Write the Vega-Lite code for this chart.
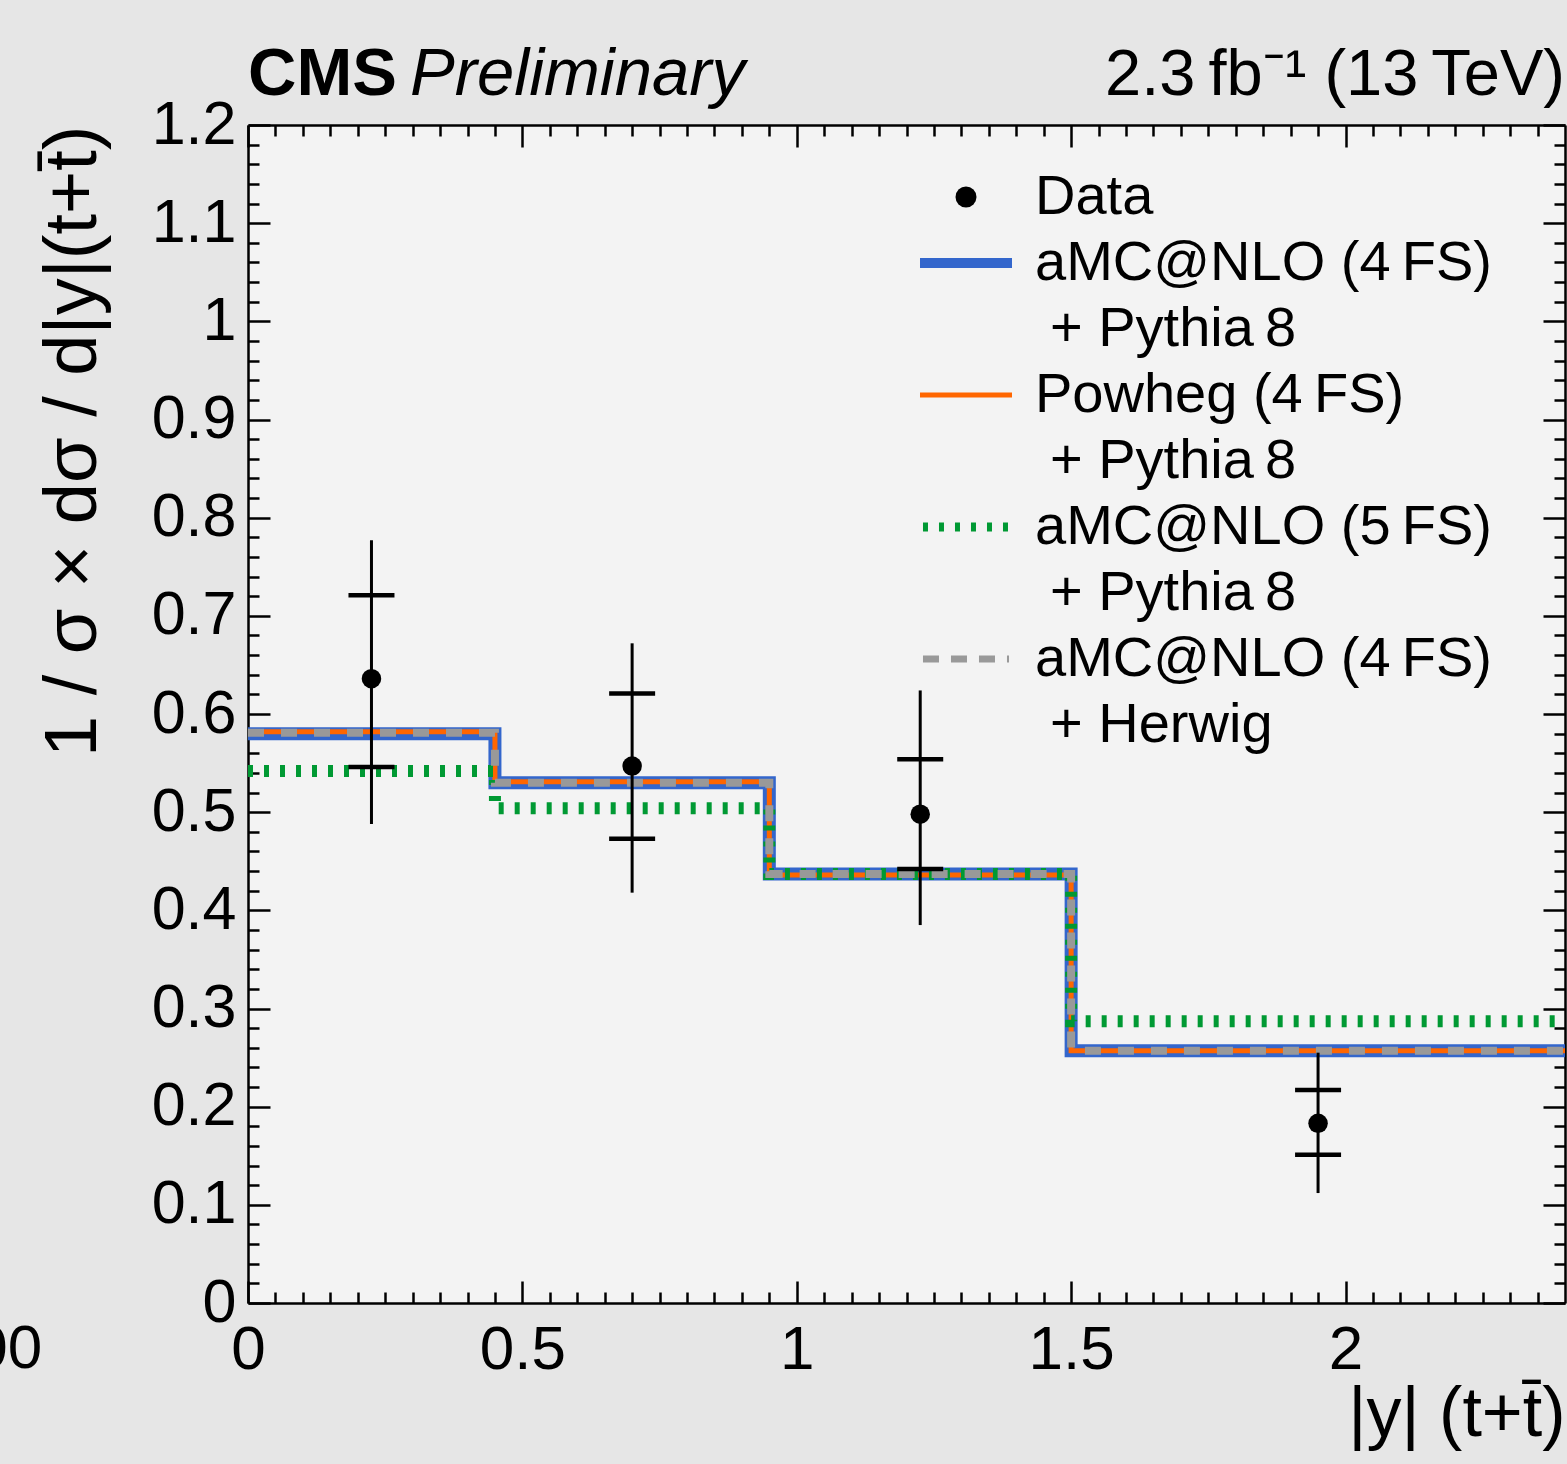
{
  "$schema": "https://vega.github.io/schema/vega-lite/v6.json",
  "width": 1317,
  "height": 1178,
  "autosize": "none",
  "padding": {"left": 248, "top": 125, "right": 2, "bottom": 161},
  "background": "#e6e6e6",
  "config": {
    "font": "Liberation Sans",
    "view": {"stroke": null, "fill": "#f3f3f3"},
    "axis": {"grid": false, "labelFlush": false, "labelOverlap": false, "zindex": 1, "tickColor": "black", "domainColor": "black", "labelColor": "black", "titleColor": "black", "labelFont": "Liberation Sans", "titleFont": "Liberation Sans", "titleFontWeight": "normal"}
  },
  "datasets": {
    "curves": [
      {"model": "amc4", "x": 0, "y": 0.58},
      {"model": "amc4", "x": 0.45, "y": 0.53},
      {"model": "amc4", "x": 0.95, "y": 0.437},
      {"model": "amc4", "x": 1.5, "y": 0.257},
      {"model": "amc4", "x": 2.4, "y": 0.257},
      {"model": "powheg", "x": 0, "y": 0.582},
      {"model": "powheg", "x": 0.45, "y": 0.531},
      {"model": "powheg", "x": 0.95, "y": 0.436},
      {"model": "powheg", "x": 1.5, "y": 0.257},
      {"model": "powheg", "x": 2.4, "y": 0.257},
      {"model": "amc5", "x": 0, "y": 0.542},
      {"model": "amc5", "x": 0.45, "y": 0.504},
      {"model": "amc5", "x": 0.95, "y": 0.437},
      {"model": "amc5", "x": 1.5, "y": 0.287},
      {"model": "amc5", "x": 2.4, "y": 0.287},
      {"model": "herwig", "x": 0, "y": 0.581},
      {"model": "herwig", "x": 0.45, "y": 0.53},
      {"model": "herwig", "x": 0.95, "y": 0.437},
      {"model": "herwig", "x": 1.5, "y": 0.257},
      {"model": "herwig", "x": 2.4, "y": 0.257}
    ],
    "points": [
      {"x": 0.225, "y": 0.636, "statLo": 0.546, "statHi": 0.721, "totLo": 0.488, "totHi": 0.777},
      {"x": 0.7, "y": 0.547, "statLo": 0.473, "statHi": 0.621, "totLo": 0.418, "totHi": 0.672},
      {"x": 1.225, "y": 0.498, "statLo": 0.442, "statHi": 0.554, "totLo": 0.385, "totHi": 0.624},
      {"x": 1.95, "y": 0.183, "statLo": 0.151, "statHi": 0.217, "totLo": 0.112, "totHi": 0.255}
    ]
  },
  "resolve": {"axis": {"x": "independent", "y": "independent"}},
  "layer": [
    {
      "data": {"name": "curves"},
      "transform": [{"filter": "datum.model === 'amc4'"}],
      "mark": {"type": "line", "interpolate": "step-after", "strokeWidth": 13},
      "encoding": {
        "x": {"field": "x", "type": "quantitative", "scale": {"domain": [0, 2.4], "nice": false, "zero": false},
          "axis": {"orient": "bottom", "values": [0, 0.5, 1, 1.5, 2], "format": "~g", "ticks": false, "domain": true, "domainWidth": 2.5, "labelFontSize": 62, "labelPadding": 16, "title": "|y| (t+t\u0304)", "titleFontSize": 70, "titleAnchor": "end", "titlePadding": 0}},
        "y": {"field": "y", "type": "quantitative", "scale": {"domain": [0, 1.2], "nice": false, "zero": false},
          "axis": {"orient": "left", "values": [0, 0.1, 0.2, 0.3, 0.4, 0.5, 0.6, 0.7, 0.8, 0.9, 1, 1.1, 1.2], "format": "~g", "ticks": false, "domain": true, "domainWidth": 2.5, "labelFontSize": 61, "labelPadding": 12, "title": "1 / σ × dσ / d|y|(t+t\u0304)", "titleFontSize": 74, "titleAnchor": "end", "titlePadding": 40}},
        "color": {"field": "model", "type": "nominal",
          "scale": {"domain": ["Data", "amc4", "amc4_p", "powheg", "powheg_p", "amc5", "amc5_p", "herwig", "herwig_p"],
                    "range": ["black", "#3366cc", "#3366cc", "#ff6600", "#ff6600", "#009933", "#009933", "#999999", "#999999"]},
          "legend": {
            "orient": "none", "legendX": 672, "legendY": 39, "title": null, "padding": 0,
            "symbolType": "stroke", "symbolSize": 8464, "symbolStrokeWidth": 10, "symbolOffset": 0,
            "labelFont": "Liberation Sans", "labelFontSize": 56, "labelColor": "black", "labelOffset": 23, "labelLimit": 0,
            "clipHeight": 66, "rowPadding": 0,
            "labelExpr": "datum.value === 'Data' ? 'Data' : (datum.value === 'amc4' || datum.value === 'herwig') ? 'aMC@NLO (4\u2009FS)' : datum.value === 'amc5' ? 'aMC@NLO (5\u2009FS)' : datum.value === 'powheg' ? 'Powheg (4\u2009FS)' : datum.value === 'herwig_p' ? '+ Herwig' : '+ Pythia\u20098'",
            "encode": {
              "symbols": {"update": {
                "x": {"signal": "datum.value === 'Data' ? 46 : 46"},
                "shape": {"signal": "datum.value === 'Data' ? 'circle' : 'stroke'"},
                "size": {"signal": "datum.value === 'Data' ? 440 : datum.value === 'amc4' || datum.value === 'powheg' ? 8464 : 7400"},
                "fill": {"signal": "datum.value === 'Data' ? 'black' : 'transparent'"},
                "strokeWidth": {"signal": "datum.value === 'Data' ? 0 : datum.value === 'amc4' ? 10 : datum.value === 'powheg' ? 5 : datum.value === 'amc5' ? 9 : 7"},
                "strokeDash": {"signal": "datum.value === 'amc5' ? [5, 11] : datum.value === 'herwig' ? [16, 12] : [1, 0]"},
                "opacity": {"signal": "indexof(['amc4_p', 'powheg_p', 'amc5_p', 'herwig_p'], datum.value) >= 0 ? 0 : 1"}
              }},
              "labels": {"update": {
                "x": {"signal": "indexof(['amc4_p', 'powheg_p', 'amc5_p', 'herwig_p'], datum.value) >= 0 ? 130 : 115"}
              }}
            }
          }}
      }
    },
    {
      "data": {"name": "curves"},
      "transform": [{"filter": "datum.model === 'powheg'"}],
      "mark": {"type": "line", "interpolate": "step-after", "strokeWidth": 5, "color": "#ff6600"},
      "encoding": {
        "x": {"field": "x", "type": "quantitative", "scale": {"domain": [0, 2.4], "nice": false, "zero": false},
          "axis": {"orient": "bottom", "values": [0, 0.5, 1, 1.5, 2], "labels": false, "domain": false, "ticks": true, "tickSize": -22, "tickWidth": 2.5, "title": null}},
        "y": {"field": "y", "type": "quantitative", "scale": {"domain": [0, 1.2], "nice": false, "zero": false},
          "axis": {"orient": "left", "values": [0, 0.1, 0.2, 0.3, 0.4, 0.5, 0.6, 0.7, 0.8, 0.9, 1, 1.1, 1.2], "labels": false, "domain": false, "ticks": true, "tickSize": -22, "tickWidth": 2.5, "title": null}}
      }
    },
    {
      "data": {"name": "curves"},
      "transform": [{"filter": "datum.model === 'amc5'"}],
      "mark": {"type": "line", "interpolate": "step-after", "strokeWidth": 12, "strokeDash": [5, 11], "color": "#009933"},
      "encoding": {
        "x": {"field": "x", "type": "quantitative", "scale": {"domain": [0, 2.4], "nice": false, "zero": false},
          "axis": {"orient": "bottom", "values": [0.05, 0.1, 0.15, 0.2, 0.25, 0.3, 0.35, 0.4, 0.45, 0.55, 0.6, 0.65, 0.7, 0.75, 0.8, 0.85, 0.9, 0.95, 1.05, 1.1, 1.15, 1.2, 1.25, 1.3, 1.35, 1.4, 1.45, 1.55, 1.6, 1.65, 1.7, 1.75, 1.8, 1.85, 1.9, 1.95, 2.05, 2.1, 2.15, 2.2, 2.25, 2.3, 2.35], "labels": false, "domain": false, "ticks": true, "tickSize": -11, "tickWidth": 2.5, "title": null}},
        "y": {"field": "y", "type": "quantitative", "scale": {"domain": [0, 1.2], "nice": false, "zero": false},
          "axis": {"orient": "left", "values": [0.02, 0.04, 0.06, 0.08, 0.12, 0.14, 0.16, 0.18, 0.22, 0.24, 0.26, 0.28, 0.32, 0.34, 0.36, 0.38, 0.42, 0.44, 0.46, 0.48, 0.52, 0.54, 0.56, 0.58, 0.62, 0.64, 0.66, 0.68, 0.72, 0.74, 0.76, 0.78, 0.82, 0.84, 0.86, 0.88, 0.92, 0.94, 0.96, 0.98, 1.02, 1.04, 1.06, 1.08, 1.12, 1.14, 1.16, 1.18], "labels": false, "domain": false, "ticks": true, "tickSize": -11, "tickWidth": 2.5, "title": null}}
      }
    },
    {
      "data": {"name": "curves"},
      "transform": [{"filter": "datum.model === 'herwig'"}],
      "mark": {"type": "line", "interpolate": "step-after", "strokeWidth": 8, "strokeDash": [16, 17], "color": "#999999"},
      "encoding": {
        "x": {"field": "x", "type": "quantitative", "scale": {"domain": [0, 2.4], "nice": false, "zero": false},
          "axis": {"orient": "top", "values": [0, 0.5, 1, 1.5, 2], "labels": false, "domain": true, "domainWidth": 2.5, "ticks": true, "tickSize": -22, "tickWidth": 2.5, "title": null}},
        "y": {"field": "y", "type": "quantitative", "scale": {"domain": [0, 1.2], "nice": false, "zero": false},
          "axis": {"orient": "right", "values": [0, 0.1, 0.2, 0.3, 0.4, 0.5, 0.6, 0.7, 0.8, 0.9, 1, 1.1, 1.2], "labels": false, "domain": true, "domainWidth": 2.5, "ticks": true, "tickSize": -22, "tickWidth": 2.5, "title": null}}
      }
    },
    {
      "data": {"name": "points"},
      "mark": {"type": "rule", "strokeWidth": 3, "color": "black", "opacity": 1},
      "encoding": {
        "x": {"field": "x", "type": "quantitative", "scale": {"domain": [0, 2.4], "nice": false, "zero": false},
          "axis": {"orient": "top", "values": [0.05, 0.1, 0.15, 0.2, 0.25, 0.3, 0.35, 0.4, 0.45, 0.55, 0.6, 0.65, 0.7, 0.75, 0.8, 0.85, 0.9, 0.95, 1.05, 1.1, 1.15, 1.2, 1.25, 1.3, 1.35, 1.4, 1.45, 1.55, 1.6, 1.65, 1.7, 1.75, 1.8, 1.85, 1.9, 1.95, 2.05, 2.1, 2.15, 2.2, 2.25, 2.3, 2.35], "labels": false, "domain": false, "ticks": true, "tickSize": -11, "tickWidth": 2.5, "title": null}},
        "y": {"field": "totLo", "type": "quantitative", "scale": {"domain": [0, 1.2], "nice": false, "zero": false},
          "axis": {"orient": "right", "values": [0.02, 0.04, 0.06, 0.08, 0.12, 0.14, 0.16, 0.18, 0.22, 0.24, 0.26, 0.28, 0.32, 0.34, 0.36, 0.38, 0.42, 0.44, 0.46, 0.48, 0.52, 0.54, 0.56, 0.58, 0.62, 0.64, 0.66, 0.68, 0.72, 0.74, 0.76, 0.78, 0.82, 0.84, 0.86, 0.88, 0.92, 0.94, 0.96, 0.98, 1.02, 1.04, 1.06, 1.08, 1.12, 1.14, 1.16, 1.18], "labels": false, "domain": false, "ticks": true, "tickSize": -11, "tickWidth": 2.5, "title": null}},
        "y2": {"field": "totHi"}
      }
    },
    {
      "data": {"name": "points"},
      "mark": {"type": "tick", "orient": "horizontal", "size": 46, "thickness": 4.5, "color": "black", "opacity": 1},
      "encoding": {
        "x": {"field": "x", "type": "quantitative", "scale": {"domain": [0, 2.4], "nice": false, "zero": false}, "axis": null},
        "y": {"field": "statLo", "type": "quantitative", "scale": {"domain": [0, 1.2], "nice": false, "zero": false}, "axis": null}
      }
    },
    {
      "data": {"name": "points"},
      "mark": {"type": "tick", "orient": "horizontal", "size": 46, "thickness": 4.5, "color": "black", "opacity": 1},
      "encoding": {
        "x": {"field": "x", "type": "quantitative", "scale": {"domain": [0, 2.4], "nice": false, "zero": false}, "axis": null},
        "y": {"field": "statHi", "type": "quantitative", "scale": {"domain": [0, 1.2], "nice": false, "zero": false}, "axis": null}
      }
    },
    {
      "data": {"name": "points"},
      "mark": {"type": "point", "shape": "circle", "filled": true, "size": 380, "color": "black", "opacity": 1},
      "encoding": {
        "x": {"field": "x", "type": "quantitative", "scale": {"domain": [0, 2.4], "nice": false, "zero": false}, "axis": null},
        "y": {"field": "y", "type": "quantitative", "scale": {"domain": [0, 1.2], "nice": false, "zero": false}, "axis": null}
      }
    },
    {
      "data": {"values": [{"t": "CMS"}]},
      "mark": {"type": "text", "align": "left", "baseline": "alphabetic", "dy": -30, "font": "Liberation Sans", "fontSize": 67, "fontWeight": "bold", "color": "black"},
      "encoding": {
        "x": {"datum": 0, "type": "quantitative", "axis": null},
        "y": {"datum": 1.2, "type": "quantitative", "axis": null},
        "text": {"field": "t"}
      }
    },
    {
      "data": {"values": [{"t": "Preliminary"}]},
      "mark": {"type": "text", "align": "left", "baseline": "alphabetic", "dx": 162, "dy": -30, "font": "Liberation Sans", "fontSize": 67, "fontStyle": "italic", "color": "black"},
      "encoding": {
        "x": {"datum": 0, "type": "quantitative", "axis": null},
        "y": {"datum": 1.2, "type": "quantitative", "axis": null},
        "text": {"field": "t"}
      }
    },
    {
      "data": {"values": [{"t": "2.3\u2009fb\u207b\u00b9 (13\u2009TeV)"}]},
      "mark": {"type": "text", "align": "right", "baseline": "alphabetic", "dy": -30, "font": "Liberation Sans", "fontSize": 65, "color": "black"},
      "encoding": {
        "x": {"datum": 2.4, "type": "quantitative", "axis": null},
        "y": {"datum": 1.2, "type": "quantitative", "axis": null},
        "text": {"field": "t"}
      }
    },
    {
      "data": {"values": [{"t": "00"}]},
      "mark": {"type": "text", "align": "right", "baseline": "top", "dy": 16, "font": "Liberation Sans", "fontSize": 62, "color": "black"},
      "encoding": {
        "x": {"datum": -0.375, "type": "quantitative", "axis": null},
        "y": {"datum": 0, "type": "quantitative", "axis": null},
        "text": {"field": "t"}
      }
    }
  ]
}
